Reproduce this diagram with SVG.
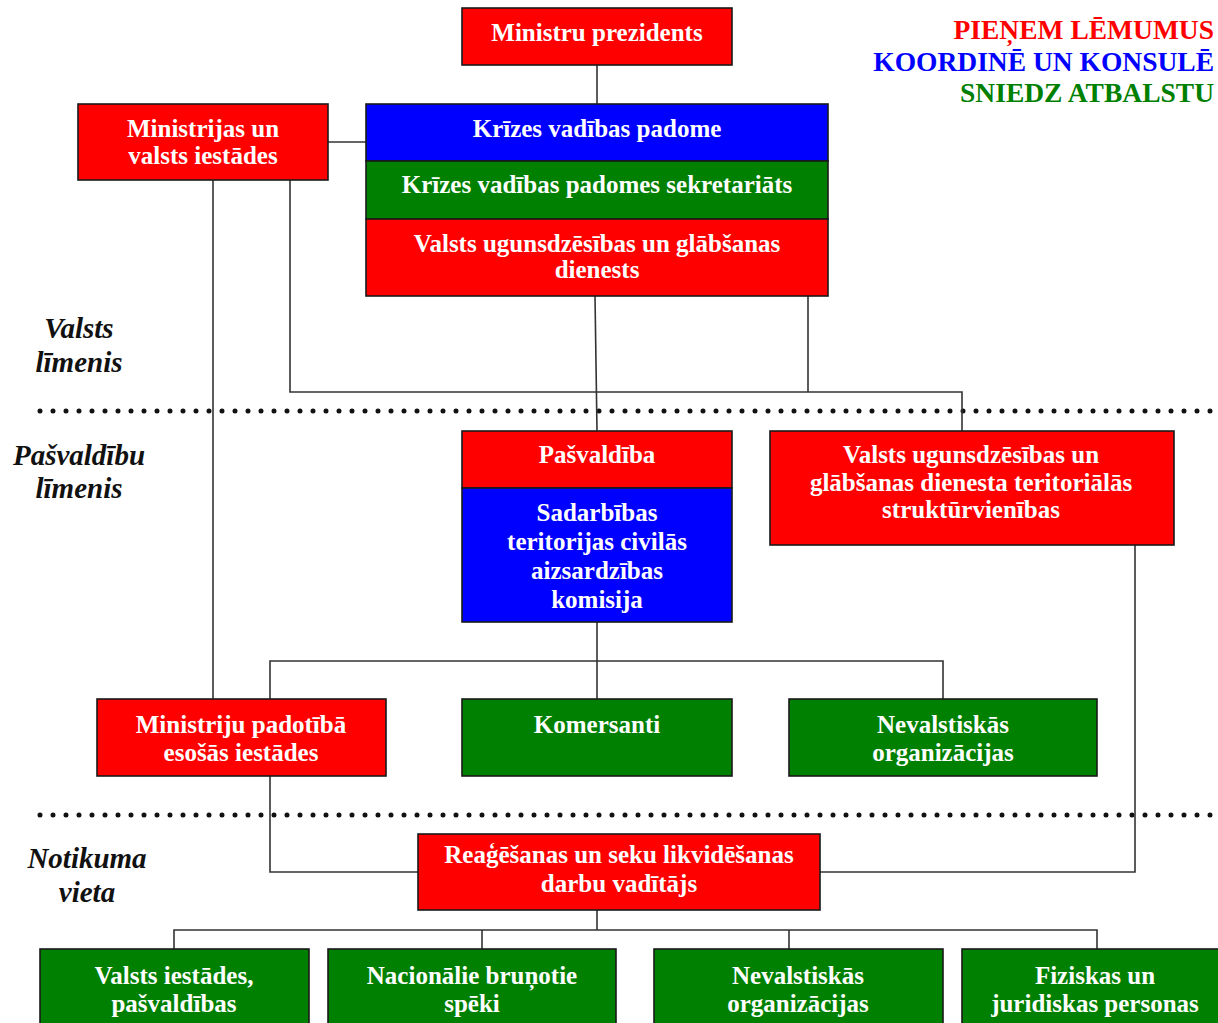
<svg xmlns="http://www.w3.org/2000/svg" width="1218" height="1023" viewBox="0 0 1218 1023">
<style>
.box{stroke:#1a1a1a;stroke-width:1.6}
.r{fill:#FF0000}.b{fill:#0000FF}.g{fill:#008000}
.t{font-family:"Liberation Serif","Times New Roman",serif;font-weight:bold;font-size:25px;fill:#fff;text-anchor:middle}
.lvl{font-family:"Liberation Serif","Times New Roman",serif;font-weight:bold;font-style:italic;font-size:29px;fill:#111;text-anchor:middle}
.leg{font-family:"Liberation Serif","Times New Roman",serif;font-weight:bold;font-size:27.5px;text-anchor:end}
.c{fill:none;stroke:#333;stroke-width:1.6}
.dots{stroke:#111;stroke-width:5;stroke-linecap:round;stroke-dasharray:0 13}
</style>
<rect width="1218" height="1023" fill="#fff"/>
<g id="separators">
<line class="dots" x1="40" y1="411" x2="1218" y2="411"/>
<line class="dots" x1="40" y1="815" x2="1218" y2="815"/>
</g>
<g id="levels">
<text class="lvl" x="79" y="338">Valsts</text>
<text class="lvl" x="79" y="372">līmenis</text>
<text class="lvl" x="79" y="465">Pašvaldību</text>
<text class="lvl" x="79" y="498">līmenis</text>
<text class="lvl" x="87" y="868">Notikuma</text>
<text class="lvl" x="87" y="902">vieta</text>
</g>
<g id="legend">
<text class="leg" x="1214" y="39" fill="#FF0000">PIEŅEM LĒMUMUS</text>
<text class="leg" x="1214" y="71" fill="#0000FF">KOORDINĒ UN KONSULĒ</text>
<text class="leg" x="1214" y="102" fill="#008000">SNIEDZ ATBALSTU</text>
</g>
<g id="connectors">
<path class="c" d="M597 65V104"/>
<path class="c" d="M328 142H366"/>
<path class="c" d="M213 180V699"/>
<path class="c" d="M290 180V392H962V431"/>
<path class="c" d="M808 296V392"/>
<path class="c" d="M595 296L597 431"/>
<path class="c" d="M597 622V699"/>
<path class="c" d="M270 699V661H943V699"/>
<path class="c" d="M270 776V872H418"/>
<path class="c" d="M1135 545V872H820"/>
<path class="c" d="M597 910V930"/>
<path class="c" d="M174 949V930H1097V949"/>
<path class="c" d="M482 930V949"/>
<path class="c" d="M789 930V949"/>
</g>
<g id="ministru-prezidents">
<rect class="box r" x="462" y="8" width="270" height="57"/>
<text class="t" x="597" y="41">Ministru prezidents</text>
</g>
<g id="ministrijas">
<rect class="box r" x="78" y="104" width="250" height="76"/>
<text class="t" x="203" y="137">Ministrijas un</text>
<text class="t" x="203" y="164">valsts iestādes</text>
</g>
<g id="kvp">
<rect class="box b" x="366" y="104" width="462" height="57"/>
<text class="t" x="597" y="137">Krīzes vadības padome</text>
</g>
<g id="kvp-sekretariats">
<rect class="box g" x="366" y="161" width="462" height="58"/>
<text class="t" x="597" y="193">Krīzes vadības padomes sekretariāts</text>
</g>
<g id="vugd">
<rect class="box r" x="366" y="219" width="462" height="77"/>
<text class="t" x="597" y="252">Valsts ugunsdzēsības un glābšanas</text>
<text class="t" x="597" y="278">dienests</text>
</g>
<g id="pasvaldiba">
<rect class="box r" x="462" y="431" width="270" height="57"/>
<text class="t" x="597" y="463">Pašvaldība</text>
</g>
<g id="sadarbibas-komisija">
<rect class="box b" x="462" y="488" width="270" height="134"/>
<text class="t" x="597" y="521">Sadarbības</text>
<text class="t" x="597" y="550">teritorijas civilās</text>
<text class="t" x="597" y="579">aizsardzības</text>
<text class="t" x="597" y="608">komisija</text>
</g>
<g id="vugd-teritorialas">
<rect class="box r" x="770" y="431" width="404" height="114"/>
<text class="t" x="971" y="463">Valsts ugunsdzēsības un</text>
<text class="t" x="971" y="491">glābšanas dienesta teritoriālās</text>
<text class="t" x="971" y="518">struktūrvienības</text>
</g>
<g id="ministriju-padotiba">
<rect class="box r" x="97" y="699" width="289" height="77"/>
<text class="t" x="241" y="733">Ministriju padotībā</text>
<text class="t" x="241" y="761">esošās iestādes</text>
</g>
<g id="komersanti">
<rect class="box g" x="462" y="699" width="270" height="77"/>
<text class="t" x="597" y="733">Komersanti</text>
</g>
<g id="nvo-pasvaldibu">
<rect class="box g" x="789" y="699" width="308" height="77"/>
<text class="t" x="943" y="733">Nevalstiskās</text>
<text class="t" x="943" y="761">organizācijas</text>
</g>
<g id="reagesanas-vaditajs">
<rect class="box r" x="418" y="834" width="402" height="76"/>
<text class="t" x="619" y="863">Reaģēšanas un seku likvidēšanas</text>
<text class="t" x="619" y="892">darbu vadītājs</text>
</g>
<g id="valsts-iestades">
<rect class="box g" x="40" y="949" width="269" height="90"/>
<text class="t" x="174" y="984">Valsts iestādes,</text>
<text class="t" x="174" y="1012">pašvaldības</text>
</g>
<g id="nbs">
<rect class="box g" x="328" y="949" width="288" height="90"/>
<text class="t" x="472" y="984">Nacionālie bruņotie</text>
<text class="t" x="472" y="1012">spēki</text>
</g>
<g id="nvo-notikuma">
<rect class="box g" x="654" y="949" width="289" height="90"/>
<text class="t" x="798" y="984">Nevalstiskās</text>
<text class="t" x="798" y="1012">organizācijas</text>
</g>
<g id="fiziskas-juridiskas">
<rect class="box g" x="962" y="949" width="270" height="90"/>
<text class="t" x="1095" y="984">Fiziskas un</text>
<text class="t" x="1095" y="1012">juridiskas personas</text>
</g>
</svg>
